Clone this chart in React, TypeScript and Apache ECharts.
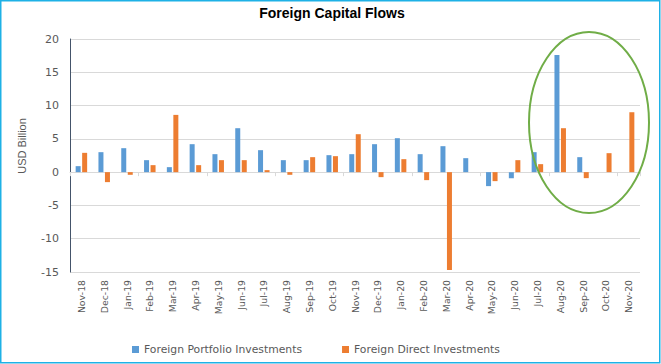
import React, { useEffect, useRef } from "react";
import * as echarts from "echarts";

const categories = [
  "Nov-18", "Dec-18", "Jan-19", "Feb-19", "Mar-19", "Apr-19", "May-19", "Jun-19", "Jul-19",
  "Aug-19", "Sep-19", "Oct-19", "Nov-19", "Dec-19", "Jan-20", "Feb-20", "Mar-20", "Apr-20",
  "May-20", "Jun-20", "Jul-20", "Aug-20", "Sep-20", "Oct-20", "Nov-20",
];

const portfolio = [
  0.9, 3.0, 3.6, 1.8, 0.75, 4.2, 2.7, 6.6, 3.3,
  1.8, 1.8, 2.55, 2.7, 4.2, 5.1, 2.7, 3.9, 2.1,
  -2.1, -0.9, 3.0, 17.6, 2.25, null, null,
];

const direct = [
  2.9, -1.5, -0.4, 1.05, 8.6, 1.05, 1.8, 1.8, 0.3,
  -0.4, 2.25, 2.4, 5.7, -0.75, 1.95, -1.2, -14.7, null,
  -1.35, 1.8, 1.2, 6.6, -0.9, 2.85, 9.0,
];

const yMin = -15;
const yMax = 20;
const yStep = 5;

export default function App() {
  const ref = useRef<HTMLDivElement>(null);

  useEffect(() => {
    if (!ref.current) return;
    const chart = echarts.init(ref.current, undefined, { renderer: "svg" });
    const labelColor = "#595959";
    chart.setOption({
      animation: false,
      backgroundColor: "#ffffff",
      title: {
        text: "Foreign Capital Flows",
        left: 332,
        textAlign: "center",
        top: 6,
        padding: 0,
        textStyle: {
          fontFamily: "Liberation Sans",
          fontWeight: "bold",
          fontSize: 14,
          color: "#000000",
        },
      },
      grid: { left: 70, right: 21, top: 39, bottom: 92 },
      legend: {
        left: 132,
        top: 344,
        padding: 0,
        icon: "rect",
        itemWidth: 7,
        itemHeight: 7,
        itemGap: 40,
        textStyle: { fontFamily: "DejaVu Sans", fontSize: 10.8, color: labelColor },
        data: ["Foreign Portfolio Investments", "Foreign Direct Investments"],
      },
      xAxis: [
        {
          type: "category",
          data: categories,
          axisLine: { onZero: true, lineStyle: { color: "#d9d9d9", width: 1 } },
          axisTick: { show: true, length: 4, lineStyle: { color: "#d9d9d9" } },
          axisLabel: { show: false },
          splitLine: { show: false },
        },
        {
          type: "category",
          data: categories,
          position: "bottom",
          axisLine: { show: false, onZero: false },
          axisTick: { show: false },
          axisLabel: {
            rotate: 90,
            margin: 8,
            interval: 0,
            fontFamily: "DejaVu Sans",
            fontSize: 9.3,
            color: labelColor,
          },
          splitLine: { show: false },
        },
      ],
      yAxis: {
        type: "value",
        min: yMin,
        max: yMax,
        interval: yStep,
        axisLine: { show: true, lineStyle: { color: "#44546a", width: 1 } },
        axisTick: { show: false },
        axisLabel: {
          margin: 11,
          fontFamily: "DejaVu Sans",
          fontSize: 11,
          color: labelColor,
        },
        splitLine: { lineStyle: { color: "#d9d9d9", width: 1 } },
      },
      series: [
        {
          name: "Foreign Portfolio Investments",
          type: "bar",
          xAxisIndex: 0,
          data: portfolio,
          barWidth: 5,
          barGap: "30%",
          itemStyle: { color: "#5b9bd5" },
        },
        {
          name: "Foreign Direct Investments",
          type: "bar",
          xAxisIndex: 0,
          data: direct,
          barWidth: 5,
          barGap: "30%",
          itemStyle: { color: "#ed7d31" },
        },
      ],
      graphic: [
        {
          type: "text",
          x: 22,
          y: 146,
          rotation: Math.PI / 2,
          style: {
            text: "USD Billion",
            fontFamily: "Liberation Sans",
            fontSize: 11,
            fill: labelColor,
            align: "center",
            verticalAlign: "middle",
          },
        },
        {
          type: "ellipse",
          shape: { cx: 589, cy: 122.5, rx: 60, ry: 90.5 },
          style: { fill: "none", stroke: "#70ad47", lineWidth: 2 },
          z: 100,
        },
        {
          type: "rect",
          shape: { x: 0.75, y: 0.75, width: 659, height: 362 },
          style: { fill: "none", stroke: "#1eb1e6", lineWidth: 1.5 },
          z: 100,
        },
      ],
    });
    return () => chart.dispose();
  }, []);

  return (
    <div
      ref={ref}
      style={{ position: "fixed", left: 0, top: 0, width: 661, height: 364, background: "#fff" }}
    />
  );
}
